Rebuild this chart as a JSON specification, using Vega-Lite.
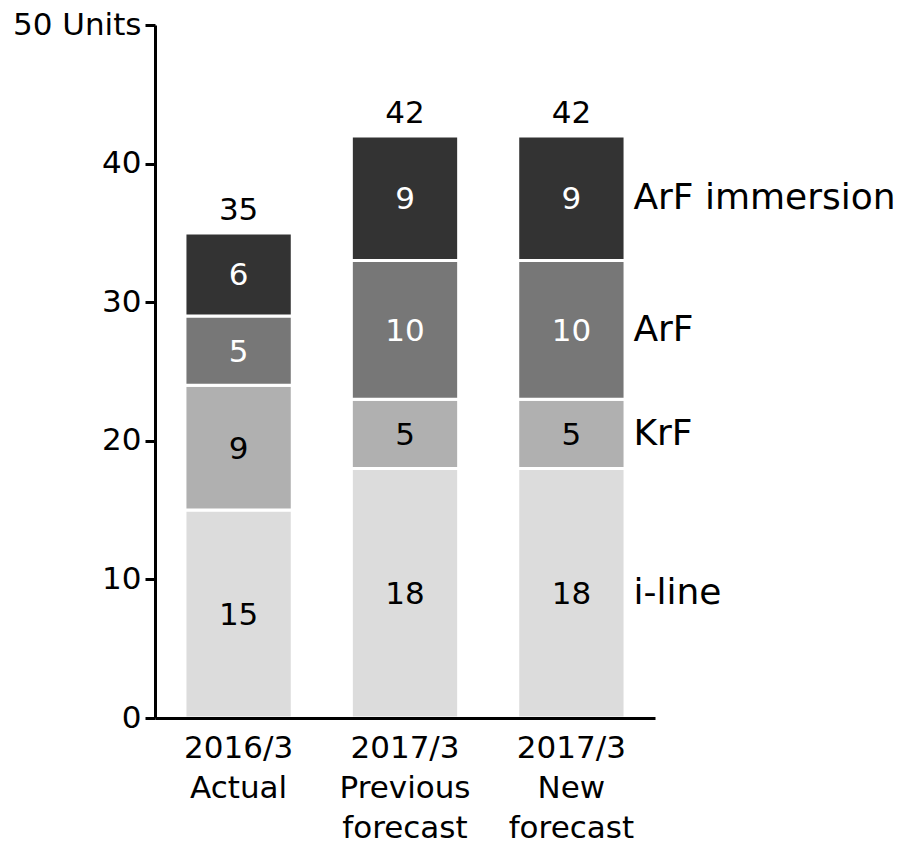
{
  "$schema": "https://vega.github.io/schema/vega-lite/v6.json",
  "width": 500,
  "height": 693,
  "autosize": "none",
  "padding": {"left": 155, "top": 25, "right": 245, "bottom": 129},
  "background": "white",
  "config": {"view": {"stroke": null}, "font": "DejaVu Sans"},
  "data": {
    "values": [
      {"period": "2016/3|Actual", "type": "i-line", "value": 15, "order": 1},
      {"period": "2016/3|Actual", "type": "KrF", "value": 9, "order": 2},
      {"period": "2016/3|Actual", "type": "ArF", "value": 5, "order": 3},
      {"period": "2016/3|Actual", "type": "ArF immersion", "value": 6, "order": 4},
      {"period": "2017/3|Previous|forecast", "type": "i-line", "value": 18, "order": 1},
      {"period": "2017/3|Previous|forecast", "type": "KrF", "value": 5, "order": 2},
      {"period": "2017/3|Previous|forecast", "type": "ArF", "value": 10, "order": 3},
      {"period": "2017/3|Previous|forecast", "type": "ArF immersion", "value": 9, "order": 4},
      {"period": "2017/3|New|forecast", "type": "i-line", "value": 18, "order": 1},
      {"period": "2017/3|New|forecast", "type": "KrF", "value": 5, "order": 2},
      {"period": "2017/3|New|forecast", "type": "ArF", "value": 10, "order": 3},
      {"period": "2017/3|New|forecast", "type": "ArF immersion", "value": 9, "order": 4}
    ]
  },
  "encoding": {
    "x": {
      "field": "period",
      "type": "nominal",
      "sort": null,
      "scale": {"paddingInner": 0.355, "paddingOuter": 0.18},
      "axis": {
        "title": null,
        "labelAngle": 0,
        "labelExpr": "split(datum.label, '|')",
        "labelFont": "DejaVu Sans",
        "labelFontSize": 31,
        "labelLineHeight": 40,
        "labelColor": "black",
        "labelPadding": 15,
        "ticks": false,
        "domainColor": "black",
        "domainWidth": 3,
        "zindex": 1
      }
    }
  },
  "layer": [
    {
      "mark": {"type": "bar", "stroke": "white", "strokeWidth": 3},
      "encoding": {
        "y": {
          "field": "value",
          "type": "quantitative",
          "stack": "zero",
          "scale": {"domain": [0, 50], "nice": false},
          "axis": {
            "title": null,
            "values": [0, 10, 20, 30, 40, 50],
            "labelExpr": "datum.value == 50 ? '50 Units' : datum.label",
            "labelFont": "DejaVu Sans",
            "labelFontSize": 31,
            "labelColor": "black",
            "labelFlush": false,
            "labelPadding": 4,
            "grid": false,
            "tickColor": "black",
            "tickWidth": 3,
            "tickSize": 10,
            "domainColor": "black",
            "domainWidth": 3,
            "zindex": 1
          }
        },
        "color": {
          "field": "type",
          "type": "nominal",
          "scale": {
            "domain": ["i-line", "KrF", "ArF", "ArF immersion"],
            "range": ["#dcdcdc", "#b0b0b0", "#777777", "#333333"]
          },
          "legend": null
        },
        "order": {"field": "order", "type": "quantitative"}
      }
    },
    {
      "mark": {"type": "text", "font": "DejaVu Sans", "fontSize": 31, "baseline": "middle", "dy": 2},
      "encoding": {
        "y": {"field": "value", "type": "quantitative", "stack": "zero", "bandPosition": 0.5},
        "detail": {"field": "type"},
        "order": {"field": "order", "type": "quantitative"},
        "text": {"field": "value", "type": "quantitative"},
        "fill": {
          "condition": {"test": "datum.order >= 3", "value": "white"},
          "value": "black"
        }
      }
    },
    {
      "transform": [{"filter": "datum.period == '2017/3|New|forecast'"}],
      "mark": {"type": "text", "font": "DejaVu Sans", "fontSize": 36, "baseline": "middle", "align": "left", "dx": 62, "color": "black"},
      "encoding": {
        "y": {"field": "value", "type": "quantitative", "stack": "zero", "bandPosition": 0.5},
        "detail": {"field": "type"},
        "order": {"field": "order", "type": "quantitative"},
        "text": {"field": "type", "type": "nominal"}
      }
    },
    {
      "mark": {"type": "text", "font": "DejaVu Sans", "fontSize": 31, "baseline": "bottom", "dy": -6, "color": "black"},
      "encoding": {
        "y": {"aggregate": "sum", "field": "value", "type": "quantitative"},
        "text": {"aggregate": "sum", "field": "value", "type": "quantitative"}
      }
    }
  ]
}
